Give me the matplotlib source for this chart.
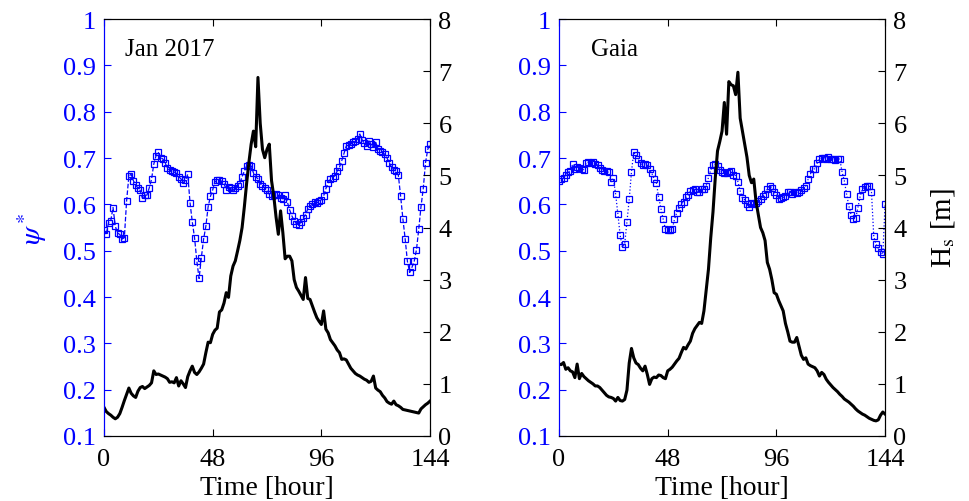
import numpy as np
import matplotlib
matplotlib.use("Agg")
import matplotlib.pyplot as plt

plt.rcParams['font.family'] = ['Liberation Serif', 'DejaVu Serif']
plt.rcParams['mathtext.fontset'] = 'stix'

hours = np.arange(0, 145)

# Jan 2017 panel
psi_jan = [0.545, 0.535, 0.56, 0.565, 0.593, 0.553, 0.538, 0.535, 0.525, 0.528,
           0.608, 0.661, 0.665, 0.651, 0.642, 0.635, 0.63, 0.613, 0.62, 0.62,
           0.636, 0.654, 0.687, 0.705, 0.712, 0.701, 0.698, 0.69, 0.678, 0.674,
           0.672, 0.67, 0.667, 0.66, 0.655, 0.646, 0.652, 0.665, 0.604, 0.562,
           0.528, 0.478, 0.44, 0.485, 0.525, 0.553, 0.595, 0.617, 0.631, 0.649,
           0.652, 0.652, 0.65, 0.645, 0.632, 0.638, 0.635, 0.63, 0.636, 0.64,
           0.645, 0.66, 0.672, 0.683, 0.684, 0.683, 0.668, 0.66, 0.655, 0.645,
           0.64, 0.636, 0.63, 0.622, 0.617, 0.62, 0.622, 0.62, 0.614, 0.612,
           0.62, 0.605, 0.588, 0.575, 0.565, 0.558, 0.556, 0.562, 0.57, 0.578,
           0.59, 0.597, 0.6, 0.605, 0.603, 0.607, 0.61, 0.618, 0.634, 0.647,
           0.654, 0.658, 0.662, 0.672, 0.68, 0.694, 0.71, 0.726, 0.728, 0.73,
           0.734, 0.736, 0.741, 0.752, 0.739, 0.732, 0.726, 0.737, 0.73, 0.723,
           0.734, 0.72, 0.716, 0.712, 0.708, 0.7, 0.69, 0.68, 0.674, 0.672,
           0.663, 0.618, 0.569, 0.526, 0.477, 0.453, 0.464, 0.477, 0.502, 0.546,
           0.595, 0.634, 0.69, 0.719, 0.73]
hs_jan = [0.55, 0.47, 0.43, 0.40, 0.36, 0.33, 0.36, 0.43, 0.55, 0.68,
          0.80, 0.92, 0.82, 0.77, 0.74, 0.86, 0.93, 0.95, 0.91, 0.94,
          0.97, 1.02, 1.25, 1.18, 1.19, 1.17, 1.15, 1.13, 1.10, 1.03,
          1.04, 1.02, 1.12, 0.96, 1.06, 1.0, 0.93, 1.14, 1.25, 1.34,
          1.22, 1.18, 1.23, 1.30, 1.38, 1.6, 1.80, 1.79, 1.95, 2.03,
          2.07, 2.38, 2.42, 2.55, 2.75, 2.66, 3.07, 3.26, 3.36, 3.55,
          3.75, 4.0, 4.4, 4.85, 5.25, 5.6, 5.85, 5.55, 6.88, 6.0,
          5.5, 5.34, 5.5, 5.6, 4.9, 4.6, 4.2, 3.87, 4.32, 3.9,
          3.4, 3.45, 3.45, 3.36, 3.0, 2.85, 2.78, 2.7, 2.62, 3.04,
          2.64, 2.62, 2.5, 2.38, 2.27, 2.2, 2.14, 2.40, 2.05, 1.98,
          1.85, 1.79, 1.73, 1.65, 1.6, 1.47, 1.48, 1.46, 1.38, 1.30,
          1.25, 1.20, 1.17, 1.15, 1.12, 1.09, 1.07, 1.03, 1.05, 1.15,
          0.92, 0.88, 0.85, 0.78, 0.73, 0.66, 0.63, 0.61, 0.67, 0.6,
          0.58, 0.55, 0.51, 0.5, 0.49, 0.48, 0.47, 0.46, 0.45, 0.44,
          0.52, 0.56, 0.60, 0.63, 0.67]

# Gaia panel
psi_gaia = [0.651, 0.655, 0.658, 0.663, 0.670, 0.672, 0.687, 0.677, 0.680, 0.679,
            0.676, 0.675, 0.690, 0.691, 0.690, 0.691, 0.688, 0.685, 0.679, 0.675,
            0.672, 0.671, 0.669, 0.649, 0.656, 0.622, 0.579, 0.533, 0.507, 0.514,
            0.562, 0.611, 0.670, 0.713, 0.706, 0.699, 0.689, 0.685, 0.687, 0.685,
            0.676, 0.667, 0.655, 0.647, 0.615, 0.591, 0.568, 0.546, 0.545, 0.545,
            0.546, 0.568, 0.582, 0.592, 0.600, 0.606, 0.615, 0.620, 0.628, 0.632,
            0.634, 0.627, 0.626, 0.633, 0.634, 0.640, 0.658, 0.674, 0.685, 0.687,
            0.683, 0.675, 0.669, 0.667, 0.668, 0.669, 0.671, 0.664, 0.662, 0.649,
            0.629, 0.613, 0.610, 0.600, 0.595, 0.604, 0.600, 0.604, 0.607, 0.612,
            0.618, 0.623, 0.633, 0.640, 0.636, 0.627, 0.620, 0.611, 0.613, 0.615,
            0.617, 0.626, 0.627, 0.622, 0.627, 0.624, 0.627, 0.630, 0.636, 0.640,
            0.654, 0.665, 0.676, 0.677, 0.689, 0.698, 0.700, 0.701, 0.699, 0.703,
            0.699, 0.698, 0.696, 0.698, 0.698, 0.670, 0.651, 0.622, 0.597, 0.577,
            0.569, 0.570, 0.593, 0.618, 0.633, 0.638, 0.640, 0.639, 0.626, 0.531,
            0.514, 0.505, 0.498, 0.492, 0.60]
hs_gaia = [1.38, 1.37, 1.41, 1.28, 1.31, 1.25, 1.23, 1.12, 1.38, 1.10,
           1.20, 1.14, 1.10, 1.06, 1.03, 1.00, 0.96, 0.96, 0.93, 0.88,
           0.83, 0.78, 0.75, 0.74, 0.72, 0.67, 0.74, 0.68, 0.67, 0.70,
           0.88, 1.40, 1.68, 1.50, 1.40, 1.37, 1.30, 1.25, 1.34, 1.18,
           0.99, 1.10, 1.13, 1.12, 1.17, 1.16, 1.12, 1.10, 1.25, 1.28,
           1.32, 1.38, 1.44, 1.49, 1.60, 1.70, 1.67, 1.75, 1.82, 1.97,
           2.06, 2.12, 2.18, 2.16, 2.40, 2.80, 3.20, 3.80, 4.30, 4.95,
           5.47, 5.65, 5.85, 6.40, 5.79, 6.80, 6.74, 6.72, 6.55, 6.98,
           6.1, 5.85, 5.6, 5.35, 5.0, 4.86, 4.93, 4.5, 4.25, 4.0,
           3.9, 3.75, 3.33, 3.2, 3.0, 2.75, 2.72, 2.6, 2.5, 2.4,
           2.16, 2.0, 1.82, 1.80, 1.80, 1.89, 1.72, 1.55, 1.47, 1.50,
           1.38, 1.35, 1.33, 1.31, 1.25, 1.15, 1.22, 1.18, 1.09, 1.03,
           0.98, 0.93, 0.89, 0.85, 0.80, 0.76, 0.71, 0.68, 0.65, 0.61,
           0.57, 0.52, 0.48, 0.45, 0.42, 0.40, 0.37, 0.34, 0.32, 0.30,
           0.29, 0.31, 0.40, 0.46, 0.42]

xticks = [0, 48, 96, 144]
psi_ticks = [0.1, 0.2, 0.3, 0.4, 0.5, 0.6, 0.7, 0.8, 0.9, 1.0]
psi_ticklabels = ['0.1', '0.2', '0.3', '0.4', '0.5', '0.6', '0.7', '0.8', '0.9', '1']
hs_ticks = [0, 1, 2, 3, 4, 5, 6, 7, 8]

blue = '#0000ff'
fs = 19

fig = plt.figure(figsize=(9.69, 5.02), dpi=100)
panels = [
    (0.1073, psi_jan, hs_jan, '--', 'Jan 2017', 9.5),
    (0.5769, psi_gaia, hs_gaia, ':', 'Gaia', 14),
]
for i, (left, psi, hs, ls, name, tx) in enumerate(panels):
    ax = fig.add_axes([left, 0.1295, 0.3365, 0.8305])
    ax.plot(hours, psi, linestyle=ls, color=blue, lw=0.9, marker='s', ms=4.5,
            mfc='none', mec=blue, mew=0.9)
    ax.set_xlim(0, 144)
    ax.set_ylim(0.1, 1.0)
    ax.set_xticks(xticks)
    ax.set_yticks(psi_ticks)
    ax.set_yticklabels(psi_ticklabels)
    ax.tick_params(axis='y', colors=blue, direction='in', labelsize=fs, length=5, pad=6)
    ax.tick_params(axis='x', direction='in', labelsize=fs, top=True, length=5, pad=9)
    ax.spines['left'].set_color(blue)
    ax.set_xlabel('Time [hour]', fontsize=fs + 1, labelpad=3)
    ax.text(tx, 0.935, name, fontsize=18, va='center', ha='left')
    if i == 0:
        ax.set_ylabel(r'$\psi^*$', color=blue, fontsize=fs + 2, labelpad=10)

    ax2 = ax.twinx()
    ax2.plot(hours, hs, color='black', lw=2.2)
    ax2.set_ylim(0, 8)
    ax2.set_yticks(hs_ticks)
    ax2.tick_params(axis='y', direction='in', labelsize=fs, length=5, pad=6)
    ax2.spines['left'].set_color(blue)
    if i == 1:
        ax2.set_ylabel(r'H$_\mathrm{s}$ [m]', fontsize=fs + 2, labelpad=16)

fig.savefig('out.png', dpi=100)
